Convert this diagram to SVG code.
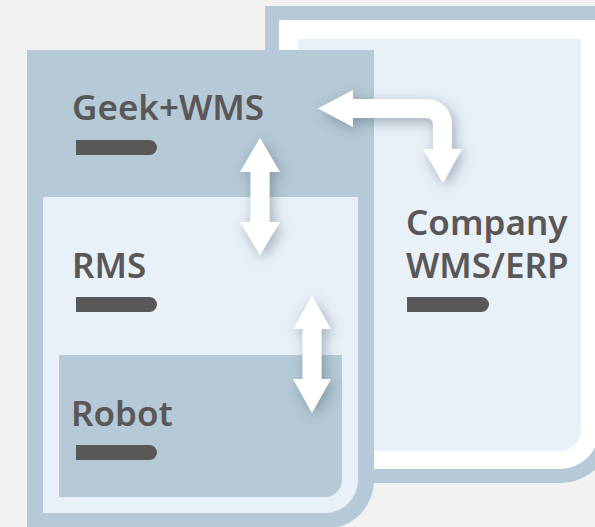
<svg xmlns="http://www.w3.org/2000/svg" width="595" height="527" viewBox="0 0 595 527">
  <defs>
    <style>
      .frame { fill: #b5cad6; }
      .light { fill: #e9f1f8; }
      .white { fill: #ffffff; }
      .label { font-family: "Noto Sans", "Open Sans", "Liberation Sans", sans-serif; font-weight: 600; font-size: 35px; fill: #595757; }
      .bar { fill: #595757; }
      .arrow { fill: #ffffff; filter: url(#shadow); }
      .shaft { fill: none; stroke: #ffffff; stroke-width: 19; filter: url(#shadow); }
    </style>
    <filter id="shadow" x="-60%" y="-60%" width="220%" height="220%">
      <feDropShadow dx="3" dy="4" stdDeviation="7" flood-color="#3f586a" flood-opacity="0.45"/>
    </filter>
  </defs>

  <rect x="0" y="0" width="595" height="527" fill="#f2f2f2"/>

  <g id="company-wms-erp">
    <path class="frame" d="M265,6 H613 V430 A53,53 0 0 1 560,483 H265 Z"/>
    <path class="white" d="M279,20 H599 V430 A39,39 0 0 1 560,469 H279 Z"/>
    <path class="light" d="M298,39 H581 V430 A21,21 0 0 1 560,451 H298 Z"/>
    <text class="label" x="406" y="235">Company</text>
    <text class="label" x="406" y="278">WMS/ERP</text>
    <path class="bar" d="M407,297 H481.5 A7.5,7.5 0 0 1 481.5,312 H407 Z"/>
  </g>

  <g id="geek-wms">
    <path class="frame" d="M27,50 H374 V480 A49,49 0 0 1 325,529 H27 Z"/>
    <text class="label" x="72" y="120">Geek+WMS</text>
    <path class="bar" d="M76,140 H149.5 A7.5,7.5 0 0 1 149.5,155 H76 Z"/>
  </g>

  <g id="rms">
    <path class="light" d="M43,197 H358 V480 A33,33 0 0 1 325,513 H43 Z"/>
    <text class="label" x="72" y="278">RMS</text>
    <path class="bar" d="M76,297 H149.5 A7.5,7.5 0 0 1 149.5,312 H76 Z"/>
  </g>

  <g id="robot">
    <path class="frame" d="M59,355 H342 V480 A17,17 0 0 1 325,497 H59 Z"/>
    <text class="label" x="71" y="426">Robot</text>
    <path class="bar" d="M76,445 H149.5 A7.5,7.5 0 0 1 149.5,460 H76 Z"/>
  </g>

  <g id="connectors">
    <path class="arrow" d="M260,138 L280,172 L269.5,172 L269.5,222 L280,222 L260,255 L240,222 L250.5,222 L250.5,172 L240,172 Z"/>
    <path class="arrow" d="M312,296 L331,329 L321.5,329 L321.5,379 L331,379 L312,413 L293,379 L302.5,379 L302.5,329 L293,329 Z"/>
    <path class="arrow" d="M318,108.5 L353,90 L353,99 L427,99 A25,25 0 0 1 452,124 L452,149 L462,149 L443,183 L423,149 L433,149 L433,124 A6,6 0 0 0 427,118 L353,118 L353,127 Z"/>
  </g>
</svg>
